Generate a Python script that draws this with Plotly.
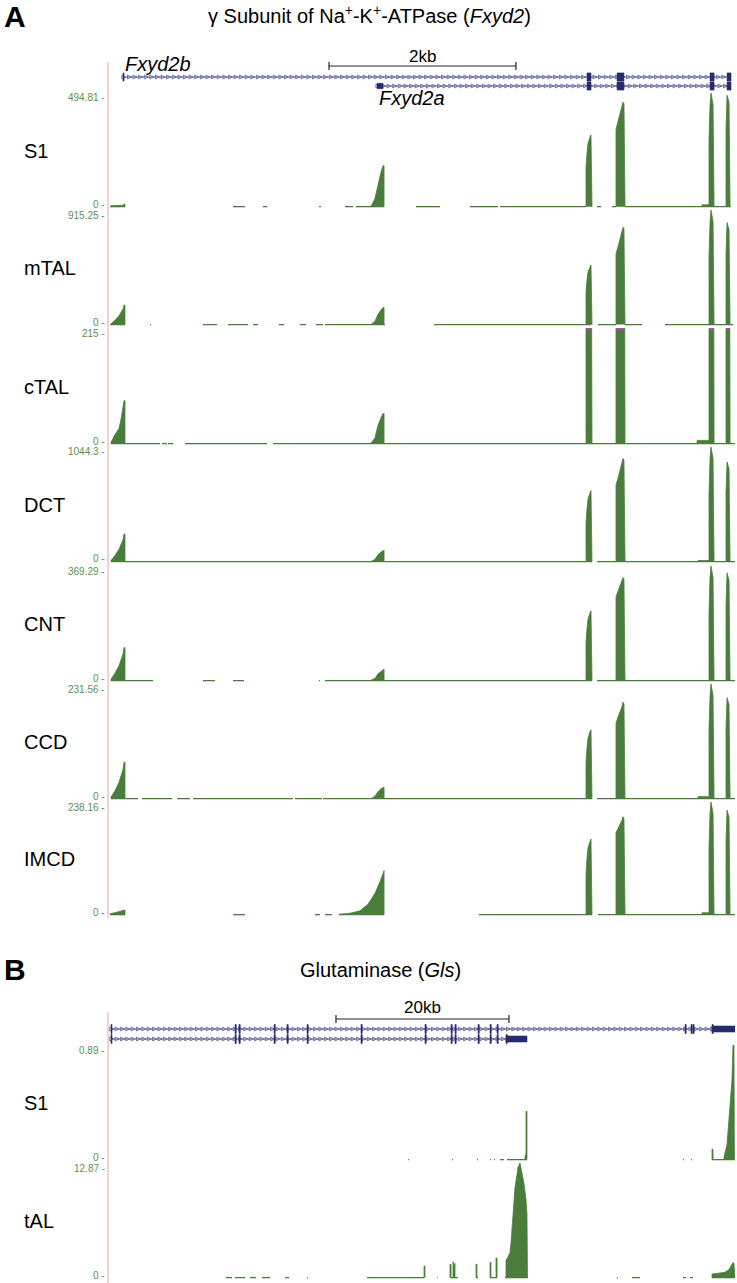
import numpy as np
import plotly.graph_objects as go

# ======================= DATA =======================
# ---- Panel A : Fxyd2 locus, x = bp from window start ----
A_TRACKS = ["S1", "mTAL", "cTAL", "DCT", "CNT", "CCD", "IMCD"]
A_MAX = [494.81, 915.25, 215, 1044.3, 369.29, 231.56, 238.16]
A_MAX_LABELS = ["494.81", "915.25", "215", "1044.3", "369.29", "231.56", "238.16"]

S1_A_PEAKS = [
    [(21, 0), (21, 4), (150, 6), (161, 12), (171, 12), (171, 0)],
    [(2793, 0), (2814, 9), (2846, 36), (2878, 100), (2910, 150), (2932, 178), (2943, 178), (2943, 0)],
    [(5104, 0), (5104, 172), (5115, 234), (5125, 275), (5147, 303), (5157, 312), (5168, 0)],
    [(5425, 0), (5425, 336), (5446, 372), (5468, 405), (5489, 435), (5500, 455), (5510, 448), (5521, 0)],
    [(6345, 0), (6345, 8), (6420, 8), (6420, 297), (6431, 445), (6441, 494.81), (6452, 470), (6463, 445), (6474, 0)],
    [(6602, 0), (6602, 340), (6613, 485), (6624, 470), (6634, 455), (6645, 0)],
]
MTAL_PEAKS = [
    [(21, 0), (21, 6), (64, 34), (107, 70), (150, 125), (161, 156), (171, 156), (171, 0)],
    [(2793, 0), (2814, 7), (2846, 27), (2878, 82), (2910, 116), (2932, 137), (2943, 137), (2943, 0)],
    [(5104, 0), (5104, 262), (5115, 357), (5125, 419), (5147, 462), (5157, 476), (5168, 0)],
    [(5425, 0), (5425, 567), (5446, 620), (5468, 680), (5489, 740), (5500, 778), (5510, 765), (5521, 0)],
    [(6420, 0), (6420, 549), (6431, 824), (6441, 915.25), (6452, 870), (6463, 824), (6474, 0)],
    [(6602, 0), (6602, 570), (6613, 815), (6624, 790), (6634, 758), (6645, 0)],
]
CTAL_PEAKS = [
    [(21, 0), (21, 2), (64, 17), (107, 28), (128, 45), (150, 64), (161, 80), (171, 80), (171, 0)],
    [(2793, 0), (2814, 3), (2846, 11), (2878, 34), (2910, 48), (2932, 56), (2943, 56), (2943, 0)],
    [(5104, 0), (5104, 330), (5115, 450), (5125, 530), (5147, 580), (5157, 600), (5168, 0)],
    [(5425, 0), (5425, 650), (5446, 720), (5468, 790), (5489, 860), (5500, 900), (5510, 880), (5521, 0)],
    [(6292, 0), (6292, 6), (6420, 6), (6420, 660), (6431, 990), (6441, 1100), (6452, 1045), (6463, 990), (6474, 0)],
    [(6602, 0), (6602, 665), (6613, 950), (6624, 920), (6634, 885), (6645, 0)],
]
DCT_PEAKS = [
    [(21, 0), (21, 10), (64, 55), (107, 113), (150, 200), (161, 251), (171, 251), (171, 0)],
    [(2793, 0), (2814, 5), (2846, 21), (2878, 62), (2910, 88), (2932, 104), (2943, 104), (2943, 0)],
    [(5104, 0), (5104, 356), (5115, 485), (5125, 570), (5147, 628), (5157, 647), (5168, 0)],
    [(5425, 0), (5425, 700), (5446, 760), (5468, 830), (5489, 895), (5500, 940), (5510, 925), (5521, 0)],
    [(6302, 0), (6302, 10), (6420, 10), (6420, 627), (6431, 940), (6441, 1044.3), (6452, 990), (6463, 940), (6474, 0)],
    [(6602, 0), (6602, 636), (6613, 909), (6624, 880), (6634, 845), (6645, 0)],
]
CNT_PEAKS = [
    [(21, 0), (21, 4), (64, 24), (107, 48), (150, 86), (161, 107), (171, 107), (171, 0)],
    [(2793, 0), (2814, 2), (2846, 7), (2878, 22), (2910, 31), (2932, 37), (2943, 37), (2943, 0)],
    [(5104, 0), (5104, 124), (5115, 169), (5125, 198), (5147, 218), (5157, 225), (5168, 0)],
    [(5425, 0), (5425, 270), (5446, 288), (5468, 305), (5489, 320), (5500, 332), (5510, 327), (5521, 0)],
    [(6420, 0), (6420, 222), (6431, 332), (6441, 369.29), (6452, 350), (6463, 332), (6474, 0)],
    [(6602, 0), (6602, 243), (6613, 347), (6624, 337), (6634, 323), (6645, 0)],
]
CCD_PEAKS = [
    [(21, 0), (21, 3), (64, 16), (107, 33), (150, 59), (161, 74), (171, 74), (171, 0)],
    [(2793, 0), (2814, 1), (2846, 5), (2878, 14), (2910, 20), (2932, 23), (2943, 23), (2943, 0)],
    [(5104, 0), (5104, 76), (5115, 104), (5125, 122), (5147, 135), (5157, 139), (5168, 0)],
    [(5425, 0), (5425, 153), (5446, 165), (5468, 175), (5489, 186), (5500, 195), (5510, 191), (5521, 0)],
    [(6302, 0), (6302, 4), (6420, 4), (6420, 139), (6431, 208), (6441, 231.56), (6452, 220), (6463, 208), (6474, 0)],
    [(6602, 0), (6602, 143), (6613, 204), (6624, 198), (6634, 190), (6645, 0)],
]
IMCD_PEAKS = [
    [(11, 0), (11, 2), (64, 4), (118, 7), (150, 10), (171, 10), (171, 0)],
    [(2461, 0), (2461, 1), (2579, 3), (2686, 8), (2771, 22), (2846, 45), (2900, 70), (2932, 88), (2943, 93), (2943, 0)],
    [(5104, 0), (5104, 88), (5115, 120), (5125, 141), (5147, 155), (5157, 160), (5168, 0)],
    [(5425, 0), (5425, 174), (5446, 182), (5468, 190), (5489, 200), (5500, 207), (5510, 203), (5521, 0)],
    [(6345, 0), (6345, 4), (6420, 4), (6420, 143), (6431, 214), (6441, 238.16), (6452, 226), (6463, 214), (6474, 0)],
    [(6602, 0), (6602, 155), (6613, 221), (6624, 214), (6634, 206), (6645, 0)],
]
A_PEAKS = [S1_A_PEAKS, MTAL_PEAKS, CTAL_PEAKS, DCT_PEAKS, CNT_PEAKS, CCD_PEAKS, IMCD_PEAKS]

# low-coverage stretches (drawn as the 1-px baseline)
S1_A_BASE = [(11, 171), (1327, 1455), (1648, 1691), (2247, 2268), (2525, 2611), (2643, 2943), (3285, 3542),
             (3863, 4162), (4184, 5104), (5222, 5264), (5382, 5425), (5521, 6655)]
MTAL_BASE = [(11, 171), (439, 449), (1006, 1156), (1273, 1487), (1541, 1594), (1819, 1873), (2044, 2108),
             (2215, 2290), (2311, 2953), (3478, 5157), (5232, 5425), (5521, 5704), (5949, 6677)]
CTAL_BASE = [(21, 546), (567, 621), (631, 685), (813, 1691), (1755, 6698)]
DCT_BASE = [(21, 5168), (5222, 6698)]
CNT_BASE = [(21, 471), (1006, 1134), (1327, 1445), (2247, 2258), (2311, 5168), (5222, 6698)]
CCD_BASE = [(21, 310), (353, 674), (728, 867), (899, 1969), (1990, 2279), (2290, 5168), (5222, 6698)]
IMCD_BASE = [(11, 171), (1327, 1455), (2204, 2258), (2311, 2386), (2461, 2943), (3959, 5168), (5232, 6698)]
A_BASE = [S1_A_BASE, MTAL_BASE, CTAL_BASE, DCT_BASE, CNT_BASE, CCD_BASE, IMCD_BASE]

# gene models (bp)
FXYD2B_SPAN = (150, 6655)
FXYD2B_EXONS = [(150, 161), (5115, 5157), (5436, 5510), (6431, 6474), (6613, 6655)]
FXYD2A_SPAN = (2868, 6655)
FXYD2A_UTR = [(2868, 2932)]
FXYD2A_EXONS = [(5115, 5157), (5436, 5510), (6431, 6474), (6613, 6655)]
A_SCALE = (2354, 4354, "2kb")
A_RANGE = (0, 6698)

# ---- Panel B : Gls locus, x = kb from window start ----
B_TRACKS = ["S1", "tAL"]
B_MAX = [0.89, 12.87]
B_MAX_LABELS = ["0.89", "12.87"]

S1_B_PEAKS = [
    [(48.09, 0), (48.09, 0.02), (48.21, 0.05), (48.21, 0.375), (48.32, 0.375), (48.32, 0)],
    [(69.71, 0), (69.71, 0.08), (69.83, 0.08), (69.83, 0)],
    [(71.10, 0), (71.10, 0.02), (71.45, 0.12), (71.68, 0.30), (71.91, 0.50), (72.02, 0.62), (72.14, 0.89),
     (72.25, 0.89), (72.30, 0)],
]
S1_B_BASE = [(34.57, 34.68), (39.65, 39.77), (42.54, 42.66), (44.05, 44.16), (44.51, 44.62), (45.20, 45.66),
             (46.01, 48.32), (66.36, 66.47), (67.28, 67.40), (69.71, 72.37)]
TAL_PEAKS = [
    [(36.42, 0), (36.42, 1.3), (36.53, 1.3), (36.53, 0)],
    [(39.42, 0), (39.42, 1.5), (39.54, 1.5), (39.54, 0)],
    [(39.77, 0), (39.77, 1.8), (39.88, 1.2), (40.0, 1.6), (40.0, 0)],
    [(42.43, 0), (42.43, 1.5), (42.54, 1.5), (42.54, 0)],
    [(44.05, 0), (44.05, 1.7), (44.16, 1.7), (44.16, 0)],
    [(44.74, 0), (44.74, 2.2), (44.86, 2.2), (44.86, 0)],
    [(45.90, 0), (45.90, 1.93), (46.13, 2.32), (46.36, 2.83), (46.47, 3.86), (46.59, 5.79), (46.71, 7.46),
     (46.94, 10.17), (47.17, 11.58), (47.28, 12.36), (47.51, 12.87), (47.75, 11.84), (47.98, 10.55),
     (48.21, 8.75), (48.32, 7.21), (48.38, 0)],
    [(69.71, 0), (69.71, 0.4), (70.50, 0.5), (71.21, 0.6), (71.68, 0.9), (72.14, 1.7), (72.25, 1.6), (72.37, 0)],
]
TAL_BASE = [(13.53, 14.22), (14.57, 15.72), (16.30, 16.99), (17.69, 18.61), (20.35, 20.81), (22.89, 23.00),
            (29.83, 36.42), (37.92, 38.00), (39.42, 40.35), (42.43, 42.66), (44.05, 44.86), (45.78, 48.44),
            (58.73, 58.84), (60.46, 61.39), (66.36, 66.71), (67.17, 67.51), (69.71, 72.37)]
B_PEAKS = [S1_B_PEAKS, TAL_PEAKS]
B_BASE = [S1_B_BASE, TAL_BASE]

GLS_SHARED_EXONS = [(0.23, 0.35), (14.57, 14.71), (15.03, 15.17), (19.08, 19.22), (20.58, 20.72), (22.89, 23.03),
                    (29.13, 29.27), (36.53, 36.67), (39.54, 39.68), (40.00, 40.14), (42.66, 42.80),
                    (44.05, 44.19), (44.86, 45.00)]
GLS_KGA_EXONS = [(66.59, 66.73), (67.28, 67.42), (67.51, 67.65), (69.71, 69.85)]
GLS_KGA_END = [(69.71, 72.37)]
GLS_KGA_SPAN = (0.23, 72.37)
GLS_GAC_EXONS = [(45.90, 46.04)]
GLS_GAC_END = [(45.90, 48.32)]
GLS_GAC_SPAN = (0.23, 48.32)
B_SCALE = (26.24, 46.24, "20kb")
B_RANGE = (0, 72.37)

# ======================= STYLE / LAYOUT =======================
W, H = 737, 1283
X0, X1 = 109, 735
FONT = "Liberation Sans, Arial, Helvetica, sans-serif"
GREEN = "#4a7d3c"
LABEL_GREEN = "#5d8f4f"
NAVY = "#262c6b"
INTRON = "#50558f"
PINK = "#eaa2a2"
MAGENTA = "#a0569a"

A_TRACK_PX = [(93, 208), (210, 326), (328, 445), (447, 563), (566, 682), (684, 800), (802, 916)]
B_TRACK_PX = [(1045, 1161), (1163, 1279)]
A_GENE_PX = (68, 95)
B_GENE_PX = (1019, 1049)


def py(p):
    return 1 - p / H


def px(p):
    return p / W


fig = go.Figure()
layout = dict(width=W, height=H, margin=dict(l=0, r=0, t=0, b=0), paper_bgcolor="white",
              plot_bgcolor="rgba(0,0,0,0)", showlegend=False, font=dict(family=FONT, color="black"))
layout["xaxis"] = dict(domain=[px(X0), px(X1)], range=list(A_RANGE), visible=False, anchor="y", fixedrange=True)
layout["xaxis2"] = dict(domain=[px(X0), px(X1)], range=list(B_RANGE), visible=False, anchor="y9", fixedrange=True)

annotations = []
shapes = []


def add_track(peaks, base, ymax, xref, yref):
    xs, ys = [], []
    for pk in peaks:
        for x, y in pk:
            xs.append(x)
            ys.append(y)
        xs.append(None)
        ys.append(None)
    fig.add_trace(go.Scatter(x=xs, y=ys, xaxis=xref, yaxis=yref, mode="lines", fill="toself",
                             fillcolor=GREEN, line=dict(color=GREEN, width=0.8), hoverinfo="skip"))
    bx, by = [], []
    for a, b in base:
        bx += [a, b, None]
        by += [0, 0, None]
    fig.add_trace(go.Scatter(x=bx, y=by, xaxis=xref, yaxis=yref, mode="lines",
                             line=dict(color=GREEN, width=1.3), hoverinfo="skip"))
    # overflow markers (values above the view range)
    mx, my = [], []
    for pk in peaks:
        over = [x for x, y in pk if y > ymax]
        if over:
            mx += [min(over), max(over), None]
            my += [ymax, ymax, None]
    if mx:
        fig.add_trace(go.Scatter(x=mx, y=my, xaxis=xref, yaxis=yref, mode="lines",
                                 line=dict(color=MAGENTA, width=4), hoverinfo="skip"))


def add_axis_labels(top, bot, label, maxlab):
    annotations.append(dict(x=px(X0 - 2), y=py(top + 5), xref="paper", yref="paper", text=maxlab + " -",
                            showarrow=False, xanchor="right", yanchor="middle",
                            font=dict(size=10, color=LABEL_GREEN, family=FONT)))
    annotations.append(dict(x=px(X0 - 2), y=py(bot - 4), xref="paper", yref="paper", text="0 -",
                            showarrow=False, xanchor="right", yanchor="middle",
                            font=dict(size=10, color=LABEL_GREEN, family=FONT)))
    annotations.append(dict(x=px(22), y=py((top + bot) / 2), xref="paper", yref="paper", text=label,
                            showarrow=False, xanchor="left", yanchor="middle",
                            font=dict(size=20, color="black", family=FONT)))


# ---- Panel A tracks ----
for i, name in enumerate(A_TRACKS):
    top, bot = A_TRACK_PX[i]
    key = "yaxis" if i == 0 else f"yaxis{i + 1}"
    ref = "y" if i == 0 else f"y{i + 1}"
    layout[key] = dict(domain=[py(bot), py(top)], range=[-0.012 * A_MAX[i], A_MAX[i]], visible=False,
                       anchor="x", fixedrange=True)
    add_track(A_PEAKS[i], A_BASE[i], A_MAX[i], "x", ref)
    add_axis_labels(top, bot, name, A_MAX_LABELS[i])

# ---- Panel B tracks ----
for j, name in enumerate(B_TRACKS):
    top, bot = B_TRACK_PX[j]
    n = 9 + j
    layout[f"yaxis{n}"] = dict(domain=[py(bot), py(top)], range=[-0.012 * B_MAX[j], B_MAX[j]], visible=False,
                               anchor="x2", fixedrange=True)
    add_track(B_PEAKS[j], B_BASE[j], B_MAX[j], "x2", f"y{n}")
    add_axis_labels(top, bot, name, B_MAX_LABELS[j])

# ---- gene model axes ----
layout["yaxis8"] = dict(domain=[py(A_GENE_PX[1]), py(A_GENE_PX[0])], range=[0, 3], visible=False,
                        anchor="x", fixedrange=True)
layout["yaxis11"] = dict(domain=[py(B_GENE_PX[1]), py(B_GENE_PX[0])], range=[0, 3], visible=False,
                         anchor="x2", fixedrange=True)


def add_gene(span, exons, thick, row, xref, yref, step):
    fig.add_trace(go.Scatter(x=[span[0], span[1]], y=[row, row], xaxis=xref, yaxis=yref, mode="lines",
                             line=dict(color=INTRON, width=1), hoverinfo="skip"))
    chev = np.arange(span[0] + step / 2, span[1], step)
    fig.add_trace(go.Scatter(x=chev, y=[row] * len(chev), xaxis=xref, yaxis=yref, mode="markers",
                             marker=dict(symbol="arrow-right-open", size=4, color=INTRON,
                                         line=dict(width=0.7, color=INTRON)), hoverinfo="skip"))
    for a, b in exons:
        shapes.append(dict(type="rect", xref=xref, yref=yref, x0=a, x1=b, y0=row - 0.45, y1=row + 0.45,
                           fillcolor=NAVY, line=dict(width=0.6, color=NAVY), layer="above"))
    for a, b in thick:
        shapes.append(dict(type="rect", xref=xref, yref=yref, x0=a, x1=b, y0=row - 0.3, y1=row + 0.3,
                           fillcolor=NAVY, line=dict(width=0.6, color=NAVY), layer="above"))


add_gene(FXYD2B_SPAN, FXYD2B_EXONS, [], 2, "x", "y8", 60)
add_gene(FXYD2A_SPAN, FXYD2A_EXONS, FXYD2A_UTR, 1, "x", "y8", 60)
add_gene(GLS_KGA_SPAN, GLS_SHARED_EXONS + GLS_KGA_EXONS, GLS_KGA_END, 2, "x2", "y11", 0.62)
add_gene(GLS_GAC_SPAN, GLS_SHARED_EXONS + GLS_GAC_EXONS, GLS_GAC_END, 1, "x2", "y11", 0.62)


# ---- scale bars ----
def scale_bar(sb, xref, ypx, txt_ypx):
    a, b, lab = sb
    shapes.append(dict(type="line", xref=xref, yref="paper", x0=a, x1=b, y0=py(ypx), y1=py(ypx),
                       line=dict(color="#222222", width=1.2)))
    for x in (a, b):
        shapes.append(dict(type="line", xref=xref, yref="paper", x0=x, x1=x, y0=py(ypx - 4), y1=py(ypx + 4),
                           line=dict(color="#222222", width=1.2)))
    annotations.append(dict(x=(a + b) / 2, y=py(txt_ypx), xref=xref, yref="paper", text=lab, showarrow=False,
                            xanchor="center", yanchor="middle", font=dict(size=17, color="black", family=FONT)))


scale_bar(A_SCALE, "x", 66, 56)
scale_bar(B_SCALE, "x2", 1019, 1007)

# ---- left border lines ----
shapes.append(dict(type="line", xref="paper", yref="paper", x0=px(108), x1=px(108), y0=py(918), y1=py(62),
                   line=dict(color=PINK, width=1)))
shapes.append(dict(type="line", xref="paper", yref="paper", x0=px(108), x1=px(108), y0=py(1283), y1=py(1012),
                   line=dict(color=PINK, width=1)))

# ---- texts ----
annotations += [
    dict(x=px(2), y=py(17), xref="paper", yref="paper", text="<b>A</b>", showarrow=False, xanchor="left",
         yanchor="middle", font=dict(size=30, color="black", family=FONT)),
    dict(x=px(369), y=py(15), xref="paper", yref="paper",
         text="γ Subunit of Na<sup>+</sup>-K<sup>+</sup>-ATPase (<i>Fxyd2</i>)", showarrow=False,
         xanchor="center", yanchor="middle", font=dict(size=20, color="black", family=FONT)),
    dict(x=FXYD2B_SPAN[0], y=py(64), xref="x", yref="paper", text="<i>Fxyd2b</i>", showarrow=False,
         xanchor="left", yanchor="middle", font=dict(size=20, color="black", family=FONT)),
    dict(x=FXYD2A_SPAN[0], y=py(98), xref="x", yref="paper", text="<i>Fxyd2a</i>", showarrow=False,
         xanchor="left", yanchor="middle", font=dict(size=20, color="black", family=FONT)),
    dict(x=px(2), y=py(969), xref="paper", yref="paper", text="<b>B</b>", showarrow=False, xanchor="left",
         yanchor="middle", font=dict(size=30, color="black", family=FONT)),
    dict(x=px(380), y=py(970), xref="paper", yref="paper", text="Glutaminase (<i>Gls</i>)", showarrow=False,
         xanchor="center", yanchor="middle", font=dict(size=20, color="black", family=FONT)),
]

layout["annotations"] = annotations
layout["shapes"] = shapes
fig.update_layout(**layout)
fig.write_html("out.html",
               config={"displayModeBar": False, "staticPlot": True},
               post_script="document.body.style.margin='0';document.body.style.padding='0';"
                           "document.body.style.overflow='hidden';")
